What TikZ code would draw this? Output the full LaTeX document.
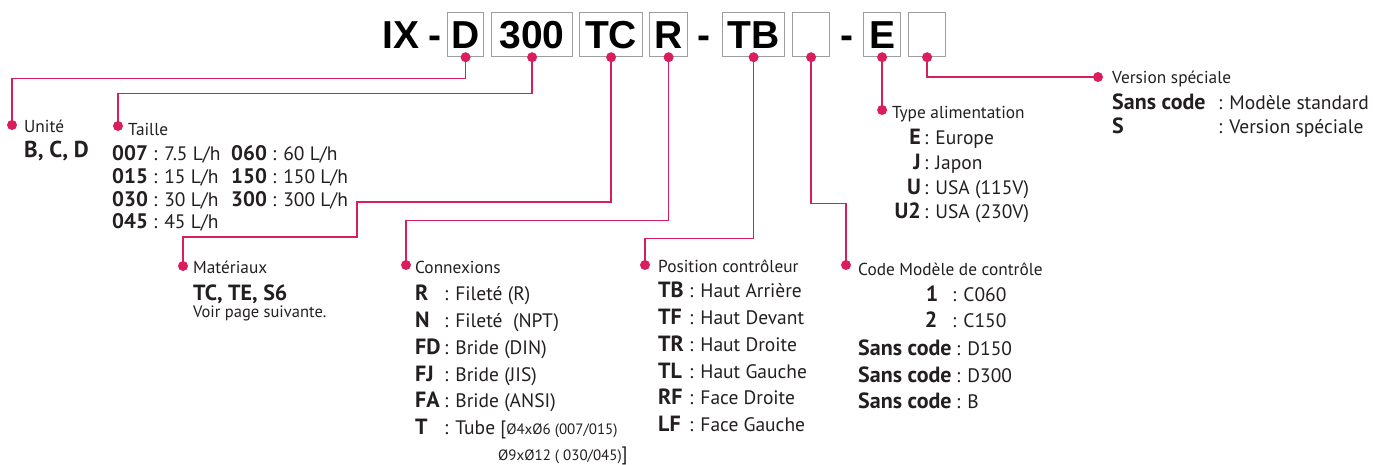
\documentclass[tikz,border=0pt]{standalone}
\usepackage{fontspec}
\setmainfont{PT Sans}
\newfontfamily\titlefont{Liberation Sans}
\definecolor{pinkline}{RGB}{218,30,92}
\definecolor{txt}{RGB}{35,31,32}
\definecolor{boxgray}{RGB}{158,158,158}
\tikzset{
  lbl/.style={anchor=base west, inner sep=0pt, font=\fontsize{17.3}{20}\selectfont, text=txt},
  key/.style={anchor=base west, inner sep=0pt, font=\fontsize{22}{24}\selectfont\bfseries, text=txt},
  val/.style={anchor=base west, inner sep=0pt, font=\fontsize{19.5}{22}\selectfont, text=txt},
  row/.style={anchor=base west, inner sep=0pt, font=\fontsize{19.5}{22}\selectfont, text=txt},
  codebox/.style={draw=boxgray, line width=1.2pt, minimum height=44pt, inner sep=0pt,
     anchor=north west, text height=28pt, text depth=0pt,
     font=\titlefont\bfseries\fontsize{39}{40}\selectfont},
  title/.style={anchor=base west, inner sep=0pt, font=\titlefont\bfseries\fontsize{39}{40}\selectfont},
  conn/.style={draw=pinkline, line width=1.3pt},
  dot/.style={fill=pinkline},
}
\newcommand{\bk}[1]{{\fontsize{21}{22}\selectfont\bfseries #1}}
\newcommand{\sm}[1]{{\fontsize{15}{17}\selectfont #1}}
\begin{document}
\begin{tikzpicture}[x=1pt,y=-1pt]
\useasboundingbox (0,0) rectangle (1373,464);
% title
\node[title] (tIX) at (382,48) {IX};
\node[title, anchor=base] (tm1) at (435,48) {-};
\node[codebox, minimum width=36pt] (bD) at (447,12) {D};
\node[codebox, minimum width=81pt] (b300) at (491,12) {300};
\node[codebox, minimum width=63pt] (bTC) at (579,12) {TC};
\node[codebox, minimum width=38pt] (bR) at (649,12) {R};
\node[title, anchor=base] (tm2) at (704,48) {-};
\node[codebox, minimum width=62pt] (bTB) at (722,12) {TB};
\node[codebox, minimum width=37pt] (bX1) at (792,12) {};
\node[title, anchor=base] (tm3) at (847,48) {-};
\node[codebox, minimum width=37pt] (bE) at (863,12) {E};
\node[codebox, minimum width=37pt] (bX2) at (908,12) {};

% label dots
\coordinate (dU) at (12,125);
\coordinate (dT) at (118,126);
\coordinate (dM) at (183,266);
\coordinate (dC) at (406,265);
\coordinate (dP) at (645,265);
\coordinate (dK) at (846,265);
\coordinate (dA) at (bE.south |- 0,110);
\coordinate (dV) at (1098,77);

% connectors
\draw[conn] (bD.south) -- ++(0,21) -| (dU);
\draw[conn] (b300.south) -- ++(0,36) -| (dT);
\draw[conn] (bTC.south) |- (357,202) |- (183,237) -- (dM);
\draw[conn] (bR.south) -- ++(0,163) -| (dC);
\draw[conn] (bTB.south) -- ++(0,181) -| (dP);
\draw[conn] (bX1.south) -- ++(0,146) -| (dK);
\draw[conn] (bE.south) -- (dA);
\draw[conn] (bX2.south) |- (dV);

\foreach \n in {bD,b300,bTC,bR,bTB,bX1,bE,bX2}{\fill[dot] (\n.south) circle (5);}
\foreach \n in {dU,dT,dM,dC,dP,dK,dA,dV}{\fill[dot] (\n) circle (5);}

% Unité
\node[lbl] (lU) at (24,132) {Unité};
\node[key, font=\fontsize{23}{24}\selectfont\bfseries] (kU) at (24,157) {B, C, D};

% Taille
\node[lbl] (lT) at (128,135) {Taille};
\node[row] (t1) at (112,160) {\bk{007} : 7.5 L/h};
\node[row] (t2) at (112,183) {\bk{015} : 15 L/h};
\node[row] (t3) at (112,206) {\bk{030} : 30 L/h};
\node[row] (t4) at (112,228) {\bk{045} : 45 L/h};
\node[row] (t5) at (231,160) {\bk{060} : 60 L/h};
\node[row] (t6) at (231,183) {\bk{150} : 150 L/h};
\node[row] (t7) at (231,206) {\bk{300} : 300 L/h};

% Matériaux
\node[lbl] (lM) at (193,273) {Matériaux};
\node[key] (kM) at (193,300) {TC, TE, S6};
\node[lbl, font=\fontsize{16.5}{18}\selectfont] (vM) at (193,317) {Voir page suivante.};

% Connexions
\node[lbl] (lC) at (415,273) {Connexions};
\node[key] (c1k) at (415,300) {R};
\node[val] (c1v) at (444,300) {: Fileté (R)};
\node[key] (c2k) at (415,327) {N};
\node[val] (c2v) at (444,327) {: Fileté\ \ (NPT)};
\node[key] (c3k) at (415,354) {FD};
\node[val] (c3v) at (444,354) {: Bride (DIN)};
\node[key] (c4k) at (415,381) {FJ};
\node[val] (c4v) at (444,381) {: Bride (JIS)};
\node[key] (c5k) at (415,407) {FA};
\node[val] (c5v) at (444,407) {: Bride (ANSI)};
\node[key] (c6k) at (415,434) {T};
\node[val] (c6v) at (444,434) {: Tube [\sm{Ø4xØ6 (007/015)}};
\node[val] (c7v) at (498,460) {\sm{Ø9xØ12 ( 030/045)}]};

% Position contrôleur
\node[lbl] (lP) at (658,272) {Position contrôleur};
\node[key] (p1k) at (658,297) {TB};
\node[val] (p1v) at (689,297) {: Haut Arrière};
\node[key] (p2k) at (658,324) {TF};
\node[val] (p2v) at (689,324) {: Haut Devant};
\node[key] (p3k) at (658,351) {TR};
\node[val] (p3v) at (689,351) {: Haut Droite};
\node[key] (p4k) at (658,378) {TL};
\node[val] (p4v) at (689,378) {: Haut Gauche};
\node[key] (p5k) at (658,404) {RF};
\node[val] (p5v) at (689,404) {: Face Droite};
\node[key] (p6k) at (658,431) {LF};
\node[val] (p6v) at (689,431) {: Face Gauche};

% Code Modèle de contrôle
\node[lbl] (lK) at (858,275) {Code Modèle de contrôle};
\node[key, anchor=base] (k1k) at (932,301) {1};
\node[val] (k1v) at (952,301) {: C060};
\node[key, anchor=base] (k2k) at (931,327) {2};
\node[val] (k2v) at (952,327) {: C150};
\node[key] (k3k) at (858,355) {Sans code};
\node[val] (k3v) at (956,355) {: D150};
\node[key] (k4k) at (858,382) {Sans code};
\node[val] (k4v) at (956,382) {: D300};
\node[key] (k5k) at (858,408) {Sans code};
\node[val] (k5v) at (956,408) {: B};

% Type alimentation
\node[lbl] (lA) at (892,118) {Type alimentation};
\node[key, anchor=base east] (a1k) at (921,144) {E};
\node[val] (a1v) at (924,144) {: Europe};
\node[key, anchor=base east] (a2k) at (921,169) {J};
\node[val] (a2v) at (924,169) {: Japon};
\node[key, anchor=base east] (a3k) at (921,194) {U};
\node[val] (a3v) at (924,194) {: USA (115V)};
\node[key, anchor=base east] (a4k) at (921,218) {U2};
\node[val] (a4v) at (924,218) {: USA (230V)};

% Version spéciale
\node[lbl] (lV) at (1112,83) {Version spéciale};
\node[key] (v1k) at (1112,109) {Sans code};
\node[val] (v1v) at (1218,109) {: Modèle standard};
\node[key] (v2k) at (1112,133) {S};
\node[val] (v2v) at (1218,133) {: Version spéciale};
\end{tikzpicture}
\end{document}
